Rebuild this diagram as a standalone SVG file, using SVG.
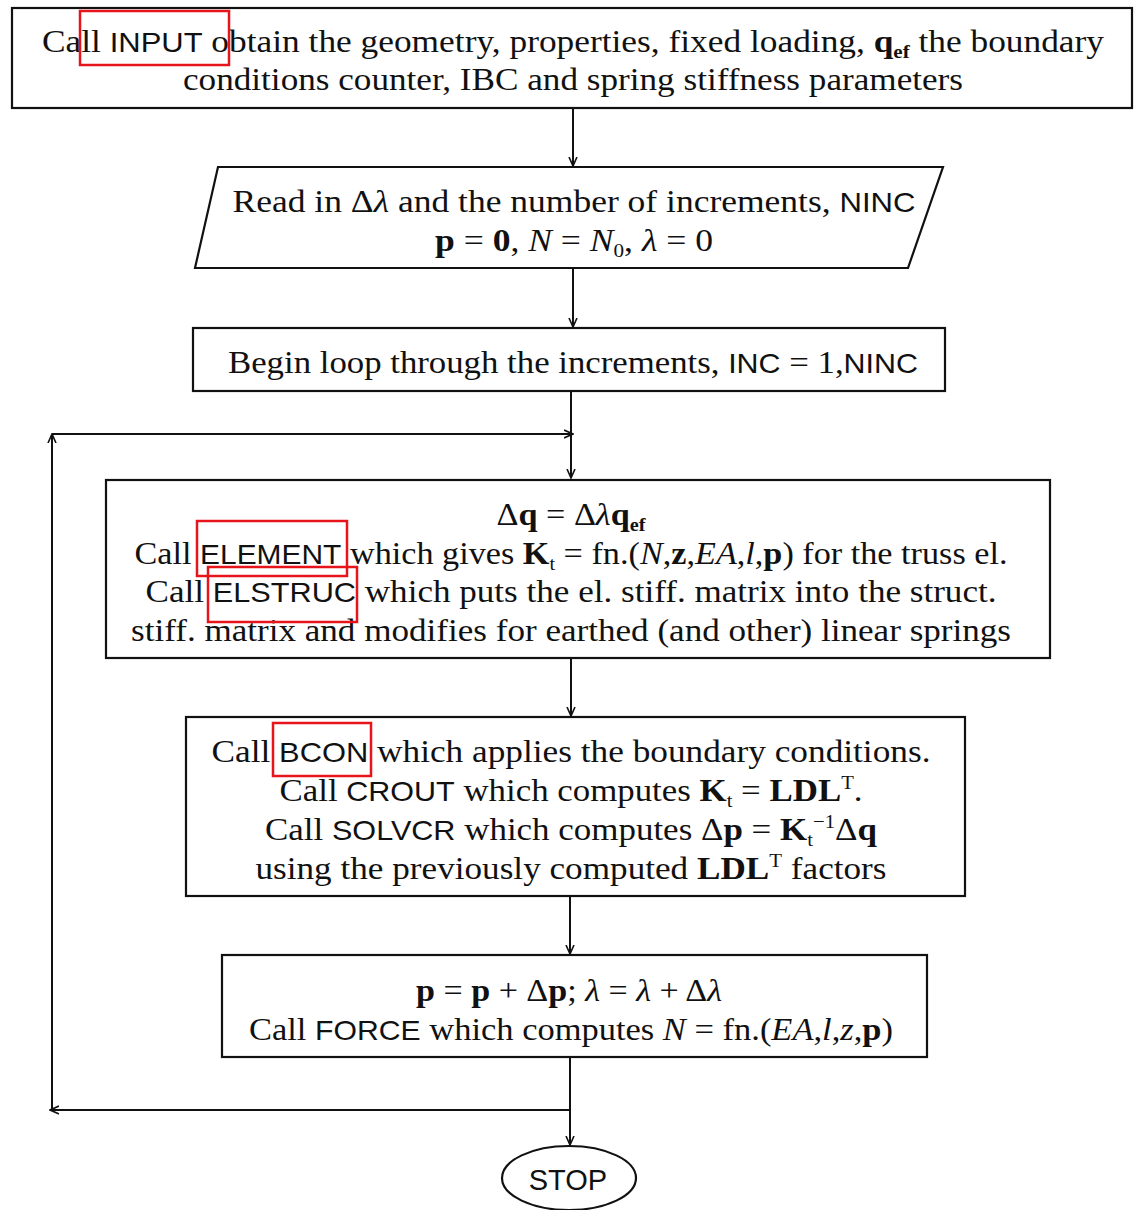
<svg xmlns="http://www.w3.org/2000/svg" width="1134" height="1210" viewBox="0 0 1134 1210">
<style>
.box{fill:#fff;stroke:#111;stroke-width:2.2}
.t{font-family:"Liberation Serif","Times New Roman",serif;font-size:32px;fill:#111;text-anchor:middle}
.s{font-family:"Liberation Sans",Arial,sans-serif;font-size:28px}
.b{font-weight:bold}
.i{font-style:italic}
.sub{font-size:19px}
.c{fill:none;stroke:#111;stroke-width:2}
.hl{fill:none;stroke:#e8141c;stroke-width:2.5}
</style>
<defs>
<marker id="ah" markerWidth="10" markerHeight="10" refX="9" refY="5" orient="auto" markerUnits="userSpaceOnUse">
<path d="M0,1 L9,5 L0,9" fill="none" stroke="#111" stroke-width="1.6"/>
</marker>
</defs>
<rect width="1134" height="1210" fill="#fff"/>

<g id="connectors">
<line class="c" x1="573" y1="108" x2="573" y2="166" marker-end="url(#ah)"/>
<line class="c" x1="573" y1="268" x2="573" y2="327" marker-end="url(#ah)"/>
<line class="c" x1="571" y1="391" x2="571" y2="478" marker-end="url(#ah)"/>
<line class="c" x1="52" y1="434" x2="573" y2="434" marker-end="url(#ah)"/>
<line class="c" x1="52" y1="1110" x2="52" y2="434" marker-end="url(#ah)"/>
<line class="c" x1="570" y1="1110" x2="50" y2="1110" marker-end="url(#ah)"/>
<line class="c" x1="571" y1="658" x2="571" y2="716" marker-end="url(#ah)"/>
<line class="c" x1="570" y1="896" x2="570" y2="954" marker-end="url(#ah)"/>
<line class="c" x1="570" y1="1057" x2="570" y2="1145" marker-end="url(#ah)"/>
</g>

<g id="input">
<rect class="box" x="12" y="8" width="1120" height="100"/>
<text class="t" x="573" y="52" textLength="1062" lengthAdjust="spacingAndGlyphs">Call <tspan class="s">INPUT</tspan> obtain the geometry, properties, fixed loading, <tspan class="b">q</tspan><tspan class="sub b" dy="6">ef</tspan><tspan dy="-6"> the boundary</tspan></text>
<text class="t" x="573" y="90" textLength="780" lengthAdjust="spacingAndGlyphs">conditions counter, IBC and spring stiffness parameters</text>
<rect class="hl" x="80" y="11" width="149" height="54"/>
</g>

<g id="read">
<polygon class="box" points="218,167 943,167 908,268 195,268"/>
<text class="t" x="574" y="212" textLength="683" lengthAdjust="spacingAndGlyphs">Read in Δ<tspan class="i">λ</tspan> and the number of increments, <tspan class="s">NINC</tspan></text>
<text class="t" x="574" y="251" textLength="278" lengthAdjust="spacingAndGlyphs"><tspan class="b">p</tspan> = <tspan class="b">0</tspan>, <tspan class="i">N</tspan> = <tspan class="i">N</tspan><tspan class="sub" dy="6">0</tspan><tspan dy="-6">, </tspan><tspan class="i">λ</tspan> = 0</text>
</g>

<g id="loop">
<rect class="box" x="193" y="328" width="752" height="63"/>
<text class="t" x="573" y="373" textLength="690" lengthAdjust="spacingAndGlyphs">Begin loop through the increments, <tspan class="s">INC</tspan> = 1,<tspan class="s">NINC</tspan></text>
</g>

<g id="element">
<rect class="box" x="106" y="480" width="944" height="178"/>
<text class="t" x="571" y="525" textLength="149" lengthAdjust="spacingAndGlyphs">Δ<tspan class="b">q</tspan> = Δ<tspan class="i">λ</tspan><tspan class="b">q</tspan><tspan class="sub b" dy="6">ef</tspan></text>
<text class="t" x="571" y="564" textLength="873" lengthAdjust="spacingAndGlyphs">Call <tspan class="s">ELEMENT</tspan> which gives <tspan class="b">K</tspan><tspan class="sub" dy="6">t</tspan><tspan dy="-6"> = fn.(</tspan><tspan class="i">N</tspan>,<tspan class="b">z</tspan>,<tspan class="i">EA</tspan>,<tspan class="i">l</tspan>,<tspan class="b">p</tspan>) for the truss el.</text>
<text class="t" x="571" y="602" textLength="851" lengthAdjust="spacingAndGlyphs">Call <tspan class="s">ELSTRUC</tspan> which puts the el. stiff. matrix into the struct.</text>
<text class="t" x="571" y="641" textLength="880" lengthAdjust="spacingAndGlyphs">stiff. matrix and modifies for earthed (and other) linear springs</text>
<rect class="hl" x="197" y="521" width="150" height="55"/>
<rect class="hl" x="208" y="567" width="149" height="55"/>
</g>

<g id="bcon">
<rect class="box" x="186" y="717" width="779" height="179"/>
<text class="t" x="571" y="762" textLength="719" lengthAdjust="spacingAndGlyphs">Call <tspan class="s">BCON</tspan> which applies the boundary conditions.</text>
<text class="t" x="571" y="801" textLength="583" lengthAdjust="spacingAndGlyphs">Call <tspan class="s">CROUT</tspan> which computes <tspan class="b">K</tspan><tspan class="sub" dy="6">t</tspan><tspan dy="-6"> = </tspan><tspan class="b">LDL</tspan><tspan class="sub" dy="-12">T</tspan><tspan dy="12">.</tspan></text>
<text class="t" x="571" y="840" textLength="612" lengthAdjust="spacingAndGlyphs">Call <tspan class="s">SOLVCR</tspan> which computes Δ<tspan class="b">p</tspan> = <tspan class="b">K</tspan><tspan class="sub" dy="6">t</tspan><tspan class="sub" dy="-18">−1</tspan><tspan dy="12">Δ</tspan><tspan class="b">q</tspan></text>
<text class="t" x="571" y="879" textLength="631" lengthAdjust="spacingAndGlyphs">using the previously computed <tspan class="b">LDL</tspan><tspan class="sub" dy="-12">T</tspan><tspan dy="12"> factors</tspan></text>
<rect class="hl" x="273" y="723" width="98" height="53"/>
</g>

<g id="force">
<rect class="box" x="222" y="955" width="705" height="102"/>
<text class="t" x="569" y="1001" textLength="306" lengthAdjust="spacingAndGlyphs"><tspan class="b">p</tspan> = <tspan class="b">p</tspan> + Δ<tspan class="b">p</tspan>; <tspan class="i">λ</tspan> = <tspan class="i">λ</tspan> + Δ<tspan class="i">λ</tspan></text>
<text class="t" x="571" y="1040" textLength="644" lengthAdjust="spacingAndGlyphs">Call <tspan class="s">FORCE</tspan> which computes <tspan class="i">N</tspan> = fn.(<tspan class="i">EA</tspan>,<tspan class="i">l</tspan>,<tspan class="i">z</tspan>,<tspan class="b">p</tspan>)</text>
</g>

<g id="stop">
<ellipse class="box" cx="569" cy="1178" rx="67" ry="32"/>
<text class="t s" x="568" y="1190" style="font-size:29px">STOP</text>
</g>
</svg>
